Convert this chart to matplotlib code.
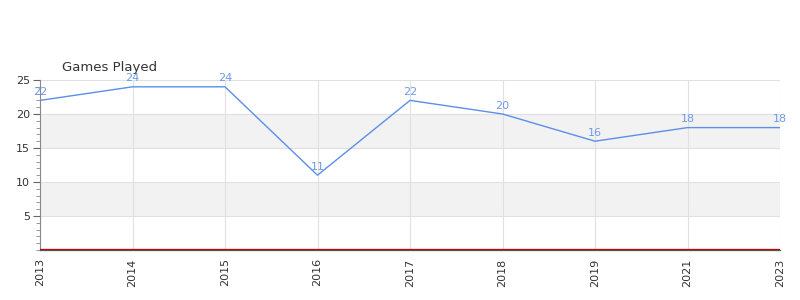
import matplotlib
matplotlib.use("Agg")
import matplotlib.pyplot as plt
from matplotlib.ticker import MultipleLocator

years = ["2013", "2014", "2015", "2016", "2017", "2018", "2019", "2021", "2023"]
games = [22, 24, 24, 11, 22, 20, 16, 18, 18]
title = "Games Played"

fig = plt.figure(figsize=(8, 3), dpi=100)
ax = fig.add_axes([0.05, 1/6, 0.925, 170/300])
x = list(range(len(years)))
ax.set_xlim(0, len(years) - 1)
ax.set_ylim(0, 25)

for lo, hi in [(5, 10), (15, 20)]:
    ax.axhspan(lo, hi, color="#f2f2f2", zorder=0, lw=0)
for yv in [5, 10, 15, 20, 25]:
    ax.axhline(yv, color="#e0e0e0", lw=0.8, zorder=1)
for xv in x:
    ax.axvline(xv, color="#e0e0e0", lw=0.8, zorder=1)

ax.plot(x, games, color="#5b8fe8", lw=1.0, zorder=3)
for xi, v in zip(x, games):
    ax.text(xi, v + 0.5, str(v), color="#6f9ae8", fontsize=8, ha="center", va="bottom", zorder=4)

ax.axhline(0.12, color="#cc0000", lw=0.9, zorder=5)

ax.set_xticks(x)
ax.set_xticklabels(years, rotation=90, fontsize=8, color="#333333")
ax.set_yticks([5, 10, 15, 20, 25])
ax.set_yticklabels(["5", "10", "15", "20", "25"], fontsize=8, color="#333333")
ax.yaxis.set_minor_locator(MultipleLocator(1))
ax.tick_params(axis="y", which="major", length=5, color="#666666", pad=2)
ax.tick_params(axis="y", which="minor", length=3, color="#888888")
ax.tick_params(axis="x", length=0, pad=6)

for s in ["top", "right"]:
    ax.spines[s].set_visible(False)
ax.spines["left"].set_color("#888888")
ax.spines["bottom"].set_color("#555555")
ax.spines["bottom"].set_linewidth(0.9)
ax.spines["bottom"].set_zorder(4)

fig.text(62/800, 1 - 67/300, title, fontsize=9.5, color="#333333", ha="left", va="center")

fig.savefig("out.png", dpi=100)
